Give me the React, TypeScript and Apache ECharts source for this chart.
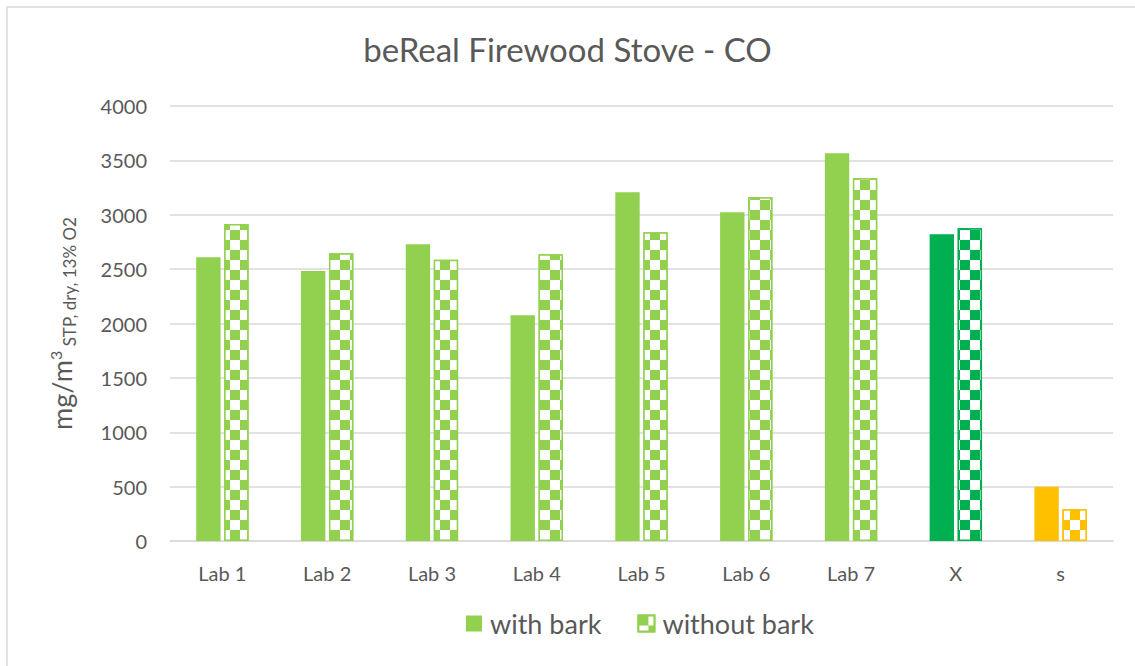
import React, { useEffect, useRef } from "react";
import * as echarts from "echarts";

const categories = ["Lab 1", "Lab 2", "Lab 3", "Lab 4", "Lab 5", "Lab 6", "Lab 7", "X", "s"];
const withBark = [2610, 2483, 2728, 2075, 3206, 3022, 3565, 2820, 500];
const withoutBark = [2915, 2645, 2587, 2636, 2839, 3160, 3335, 2875, 291];
const yTicks = { min: 0, max: 4000, interval: 500 };

const LIGHT = "#92d050";
const DARK = "#00b050";
const ORANGE = "#ffc000";
const TEXT = "#595959";
const GRID = "#d9d9d9";
const FONT = "Lato, 'Open Sans', sans-serif";

function colorFor(i: number) {
  if (categories[i] === "X") return DARK;
  if (categories[i] === "s") return ORANGE;
  return LIGHT;
}

const checker = {
  symbol: "rect",
  symbolSize: 1,
  color: "#ffffff",
  dashArrayX: [[10, 10], [0, 10, 10, 0]],
  dashArrayY: [10, 0],
  rotation: 0,
};

export default function App() {
  const ref = useRef<HTMLDivElement>(null);
  useEffect(() => {
    if (!ref.current) return;
    const chart = echarts.init(ref.current, undefined, { renderer: "svg" });
    chart.setOption({
      animation: false,
      backgroundColor: "#ffffff",
      title: {
        text: "beReal Firewood Stove - CO",
        left: "center",
        top: 27,
        textStyle: { fontFamily: FONT, fontSize: 33, fontWeight: "normal", color: TEXT },
      },
      graphic: [
        {
          type: "rect",
          shape: { x: 7, y: 7, width: 1200, height: 700 },
          style: { fill: "none", stroke: GRID, lineWidth: 1.5 },
          silent: true,
          z: -10,
        },
      ],
      legend: {
        bottom: 24,
        left: 461,
        itemWidth: 16,
        itemHeight: 16,
        itemGap: 36,
        icon: "rect",
        textStyle: { fontFamily: FONT, fontSize: 27, color: TEXT, padding: [0, 0, 0, 3] },
        data: ["with bark", "without bark"],
      },
      grid: { left: 170, right: 22, top: 106, bottom: 125, containLabel: false },
      xAxis: {
        type: "category",
        data: categories,
        axisLine: { lineStyle: { color: GRID, width: 1.5 } },
        axisTick: { show: false },
        axisLabel: { fontFamily: FONT, fontSize: 20, color: TEXT, margin: 22 },
      },
      yAxis: {
        type: "value",
        min: yTicks.min,
        max: yTicks.max,
        interval: yTicks.interval,
        axisLine: { show: false },
        axisTick: { show: false },
        splitLine: { lineStyle: { color: GRID, width: 1.5 } },
        axisLabel: {
          fontFamily: FONT,
          fontSize: 20,
          color: TEXT,
          margin: 23,
          formatter: (v: number) => String(v),
        },
        name: "{a|mg/m}{b|3}{c| STP, dry, 13% O2}",
        nameLocation: "middle",
        nameRotate: 90,
        nameGap: 95,
        nameTextStyle: {
          fontFamily: FONT,
          color: TEXT,
          rich: {
            a: { fontFamily: FONT, fontSize: 27, color: TEXT, lineHeight: 28, verticalAlign: "bottom" },
            b: { fontFamily: FONT, fontSize: 16, color: TEXT, lineHeight: 16, verticalAlign: "top" },
            c: { fontFamily: FONT, fontSize: 17, color: TEXT, lineHeight: 17, verticalAlign: "bottom", padding: [0, 0, -3, 0] },
          },
        },
      },
      series: [
        {
          name: "with bark",
          type: "bar",
          barCategoryGap: "50%",
          barGap: "15%",
          itemStyle: { color: LIGHT },
          data: withBark.map((v, i) => ({ value: v, itemStyle: { color: colorFor(i) } })),
        },
        {
          name: "without bark",
          type: "bar",
          barCategoryGap: "50%",
          barGap: "15%",
          itemStyle: { color: LIGHT, borderColor: LIGHT, borderWidth: 1.5, decal: checker },
          data: withoutBark.map((v, i) => ({
            value: v,
            itemStyle: { color: colorFor(i), borderColor: colorFor(i), borderWidth: 1.5, decal: checker },
          })),
        },
      ],
    });
    return () => chart.dispose();
  }, []);
  return (
    <div
      ref={ref}
      style={{ position: "fixed", left: 0, top: 0, width: 1135, height: 666 }}
    />
  );
}
